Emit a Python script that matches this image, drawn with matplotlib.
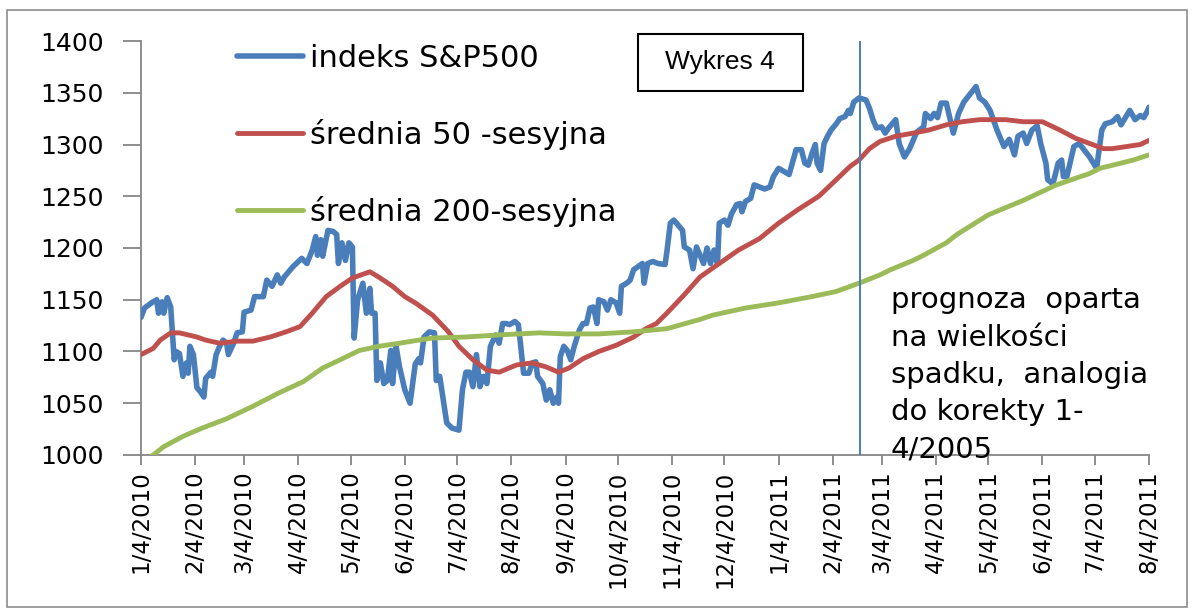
import matplotlib
matplotlib.use('Agg')
import matplotlib.pyplot as plt
from matplotlib.patches import Rectangle
import pandas as pd

# indeks S&P500 - odczyt z wykresu
sp_dates = ['2010-01-04', '2010-01-06', '2010-01-10', '2010-01-13', '2010-01-14', '2010-01-16', '2010-01-17', '2010-01-19',
            '2010-01-21', '2010-01-23', '2010-01-24', '2010-01-26', '2010-01-28', '2010-01-30', '2010-01-31',
            '2010-02-01', '2010-02-03', '2010-02-05', '2010-02-07', '2010-02-09', '2010-02-10', '2010-02-11', '2010-02-13',
            '2010-02-14', '2010-02-16', '2010-02-18', '2010-02-20', '2010-02-22', '2010-02-23', '2010-02-26', '2010-02-28',
            '2010-03-03', '2010-03-04', '2010-03-08', '2010-03-10', '2010-03-15', '2010-03-17', '2010-03-20', '2010-03-23',
            '2010-03-25', '2010-03-27',
            '2010-04-01', '2010-04-06', '2010-04-09', '2010-04-12', '2010-04-14', '2010-04-15', '2010-04-17', '2010-04-18',
            '2010-04-21', '2010-04-24', '2010-04-26', '2010-04-27', '2010-04-29',
            '2010-05-01', '2010-05-03', '2010-05-05', '2010-05-06', '2010-05-08', '2010-05-11', '2010-05-13', '2010-05-15',
            '2010-05-16', '2010-05-18', '2010-05-19', '2010-05-21', '2010-05-23', '2010-05-25', '2010-05-27', '2010-05-28',
            '2010-05-30',
            '2010-06-01', '2010-06-04', '2010-06-07', '2010-06-10', '2010-06-12', '2010-06-13', '2010-06-15', '2010-06-18',
            '2010-06-21', '2010-06-22', '2010-06-24', '2010-06-28',
            '2010-07-01', '2010-07-05', '2010-07-07', '2010-07-09', '2010-07-11', '2010-07-13', '2010-07-15', '2010-07-17',
            '2010-07-19', '2010-07-21', '2010-07-23', '2010-07-26', '2010-07-28', '2010-07-30',
            '2010-08-01', '2010-08-03', '2010-08-06', '2010-08-08', '2010-08-09', '2010-08-11', '2010-08-14', '2010-08-16',
            '2010-08-18', '2010-08-19', '2010-08-22', '2010-08-24', '2010-08-26', '2010-08-28', '2010-08-30', '2010-08-31',
            '2010-09-01', '2010-09-03', '2010-09-05', '2010-09-07', '2010-09-09', '2010-09-12', '2010-09-14', '2010-09-16',
            '2010-09-18', '2010-09-20', '2010-09-22', '2010-09-23', '2010-09-26', '2010-09-28', '2010-09-30',
            '2010-10-03', '2010-10-05', '2010-10-06', '2010-10-09', '2010-10-11', '2010-10-13', '2010-10-18', '2010-10-19',
            '2010-10-21', '2010-10-24', '2010-10-27', '2010-10-31',
            '2010-11-01', '2010-11-03', '2010-11-05', '2010-11-08', '2010-11-10', '2010-11-11', '2010-11-14', '2010-11-16',
            '2010-11-18', '2010-11-22', '2010-11-24', '2010-11-26', '2010-11-28', '2010-11-30',
            '2010-12-01', '2010-12-04', '2010-12-06', '2010-12-08', '2010-12-11', '2010-12-13', '2010-12-14', '2010-12-16',
            '2010-12-19', '2010-12-21', '2010-12-24', '2010-12-27', '2010-12-30',
            '2011-01-01', '2011-01-04', '2011-01-07', '2011-01-10', '2011-01-12', '2011-01-14', '2011-01-17', '2011-01-19',
            '2011-01-21', '2011-01-23', '2011-01-25', '2011-01-26', '2011-01-28', '2011-01-30',
            '2011-02-01', '2011-02-03', '2011-02-06', '2011-02-08', '2011-02-11', '2011-02-13', '2011-02-14', '2011-02-16',
            '2011-02-19', '2011-02-23', '2011-02-25', '2011-02-27',
            '2011-03-01', '2011-03-04', '2011-03-06', '2011-03-08', '2011-03-12', '2011-03-14', '2011-03-17', '2011-03-20',
            '2011-03-24', '2011-03-28', '2011-03-29',
            '2011-04-01', '2011-04-03', '2011-04-05', '2011-04-07', '2011-04-10', '2011-04-14', '2011-04-17', '2011-04-20',
            '2011-04-27', '2011-04-29',
            '2011-05-02', '2011-05-05', '2011-05-09', '2011-05-13', '2011-05-16', '2011-05-19', '2011-05-21', '2011-05-24',
            '2011-05-26', '2011-05-29',
            '2011-06-01', '2011-06-03', '2011-06-06', '2011-06-07', '2011-06-10', '2011-06-13', '2011-06-15', '2011-06-16',
            '2011-06-18', '2011-06-22', '2011-06-25',
            '2011-07-01', '2011-07-05', '2011-07-08', '2011-07-10', '2011-07-14', '2011-07-17', '2011-07-19', '2011-07-24',
            '2011-07-27', '2011-07-30',
            '2011-08-01', '2011-08-03', '2011-08-04']
sp_values = [1133, 1142, 1147, 1150, 1137, 1148, 1137, 1152,
             1143, 1092, 1100, 1098, 1076, 1089, 1079,
             1105, 1097, 1065, 1061, 1056, 1074, 1076, 1080,
             1076, 1097, 1105, 1111, 1108, 1097, 1108, 1118,
             1119, 1138, 1140, 1153, 1153, 1169, 1163, 1174,
             1166, 1172,
             1182, 1190, 1185, 1198, 1211, 1193, 1208, 1192,
             1217, 1216, 1213, 1185, 1205,
             1188, 1205, 1201, 1113, 1150, 1166, 1137, 1161,
             1137, 1137, 1072, 1089, 1069, 1072, 1101, 1069,
             1105,
             1085, 1063, 1050, 1088, 1093, 1089, 1114, 1119,
             1118, 1072, 1076, 1031,
             1026, 1024, 1063, 1080, 1080, 1066, 1097, 1066,
             1076, 1069, 1105, 1116, 1108, 1127,
             1127, 1126, 1129, 1126, 1111, 1079, 1079, 1089,
             1090, 1076, 1069, 1053, 1063, 1050, 1056, 1050,
             1095, 1105, 1101, 1092, 1105, 1121, 1127, 1127,
             1142, 1143, 1127, 1150, 1148, 1140, 1150,
             1147, 1137, 1163, 1166, 1169, 1179, 1185, 1166,
             1185, 1187, 1185, 1184,
             1196, 1224, 1227, 1221, 1217, 1201, 1198, 1180,
             1201, 1185, 1200, 1185, 1198, 1185,
             1224, 1227, 1222, 1233, 1242, 1243, 1235, 1245,
             1248, 1261, 1259, 1257, 1259,
             1269, 1277, 1274, 1271, 1283, 1295, 1295, 1282,
             1280, 1291, 1300, 1282, 1275, 1301,
             1308, 1314, 1320, 1325, 1327, 1333, 1330, 1341,
             1345, 1343, 1335, 1324,
             1316, 1317, 1311, 1316, 1324, 1301, 1288, 1296,
             1312, 1317, 1330,
             1325, 1330, 1326, 1340, 1340, 1311, 1330, 1341,
             1356, 1345,
             1341, 1333, 1314, 1298, 1305, 1290, 1308, 1311,
             1301, 1314,
             1318, 1301, 1282, 1266, 1262, 1282, 1285, 1269,
             1269, 1298, 1301,
             1288, 1277, 1314, 1320, 1322, 1327, 1319, 1333,
             1324, 1328,
             1326, 1332, 1336]

# srednia 50-sesyjna
ma50_dates = ['2010-01-04', '2010-01-11', '2010-01-15', '2010-01-21', '2010-01-26', '2010-02-05', '2010-02-10',
              '2010-02-18', '2010-02-28', '2010-03-09', '2010-03-19', '2010-03-28', '2010-04-05', '2010-04-12',
              '2010-04-20', '2010-04-28', '2010-05-05', '2010-05-15', '2010-05-20', '2010-05-28', '2010-06-04',
              '2010-06-10', '2010-06-20', '2010-06-29', '2010-07-05', '2010-07-13', '2010-07-21', '2010-07-28',
              '2010-08-07', '2010-08-16', '2010-08-24', '2010-08-31', '2010-09-06', '2010-09-14', '2010-09-23',
              '2010-10-03', '2010-10-13', '2010-10-20', '2010-10-26', '2010-11-01', '2010-11-10', '2010-11-20',
              '2010-12-01', '2010-12-12', '2010-12-24', '2011-01-04', '2011-01-15', '2011-01-27', '2011-02-06',
              '2011-02-14', '2011-02-19', '2011-02-25', '2011-03-03', '2011-03-12', '2011-03-22', '2011-03-31',
              '2011-04-10', '2011-04-19', '2011-04-29', '2011-05-14', '2011-05-24', '2011-06-04', '2011-06-14',
              '2011-06-23', '2011-07-01', '2011-07-09', '2011-07-14', '2011-07-22', '2011-07-30', '2011-08-04']
ma50_values = [1097, 1103, 1111, 1118, 1118, 1114, 1111,
               1108, 1110, 1110, 1114, 1119, 1124, 1137,
               1153, 1163, 1171, 1177, 1172, 1163, 1153,
               1147, 1135, 1119, 1105, 1092, 1082, 1080,
               1087, 1089, 1085, 1080, 1084, 1093, 1100,
               1106, 1114, 1122, 1127, 1137, 1153, 1172,
               1185, 1198, 1209, 1224, 1237, 1250, 1266,
               1279, 1285, 1296, 1303, 1308, 1311, 1314,
               1319, 1322, 1324, 1324, 1322, 1322, 1314,
               1306, 1301, 1296, 1296, 1298, 1300, 1304]

# srednia 200-sesyjna
ma200_dates = ['2010-01-04', '2010-01-11', '2010-01-17', '2010-01-28', '2010-02-08', '2010-02-22', '2010-03-09',
               '2010-03-24', '2010-04-07', '2010-04-18', '2010-04-28', '2010-05-09', '2010-05-20', '2010-06-01',
               '2010-06-12', '2010-06-20', '2010-07-09', '2010-07-28', '2010-08-20', '2010-09-04', '2010-09-23',
               '2010-10-13', '2010-11-01', '2010-11-20', '2010-11-27', '2010-12-16', '2011-01-04', '2011-01-23',
               '2011-02-06', '2011-02-19', '2011-03-03', '2011-03-09', '2011-03-22', '2011-03-28', '2011-04-10',
               '2011-04-16', '2011-05-04', '2011-05-24', '2011-06-12', '2011-07-01', '2011-07-07', '2011-07-26',
               '2011-08-04']
ma200_values = [990, 1000, 1008, 1018, 1026, 1035, 1047,
                1060, 1071, 1084, 1092, 1101, 1105, 1108,
                1111, 1113, 1114, 1116, 1118, 1117, 1117,
                1119, 1122, 1131, 1135, 1142, 1147, 1153,
                1158, 1166, 1174, 1179, 1188, 1193, 1205,
                1213, 1232, 1246, 1261, 1272, 1277, 1285,
                1290]

labels = ['indeks S&P500', 'średnia 50 -sesyjna', 'średnia 200-sesyjna']
note = 'prognoza  oparta\nna wielkości\nspadku,  analogia\ndo korekty 1-\n4/2005'
marker_date = '2011-02-19 12:00'
start, end = '2010-01-04', '2011-08-04'

axis_col = '#868686'

fig = plt.figure(figsize=(11.94, 6.15), dpi=100)
ax = fig.add_axes([0.1181, 0.2602, 0.8442, 0.6731])

ax.plot(pd.to_datetime(sp_dates), sp_values, color='#4A7EBB', lw=4.0,
        solid_joinstyle='round', solid_capstyle='round', label=labels[0], zorder=3)
ax.plot(pd.to_datetime(ma50_dates), ma50_values, color='#C0504D', lw=3.5,
        solid_capstyle='round', label=labels[1], zorder=4)
ax.plot(pd.to_datetime(ma200_dates), ma200_values, color='#9BBB59', lw=3.5,
        solid_capstyle='round', label=labels[2], zorder=5)
ax.axvline(pd.Timestamp(marker_date), color='#4A7EBB', lw=1.4, zorder=6)

ax.set_xlim(pd.Timestamp(start), pd.Timestamp(end))
ax.set_ylim(1000, 1400)
ax.set_yticks(range(1000, 1401, 50))

ticks = [pd.Timestamp(start) + pd.DateOffset(months=i) for i in range(20)]
ax.set_xticks(ticks)
ax.set_xticklabels([f'{d.month}/{d.day}/{d.year}' for d in ticks], rotation=90)

for s in ['top', 'right']:
    ax.spines[s].set_visible(False)
for s in ['left', 'bottom']:
    ax.spines[s].set_color(axis_col)
    ax.spines[s].set_linewidth(1.3)
ax.tick_params(axis='x', length=7, width=1.3, color=axis_col, pad=4, labelsize=16.5)
ax.tick_params(axis='y', length=13, width=1.3, color=axis_col, pad=14, labelsize=18)

ax.legend(loc='upper left', bbox_to_anchor=(0.095, 0.993), frameon=False, fontsize=22,
          borderpad=0, borderaxespad=0, handlelength=2.16, handletextpad=0.23, labelspacing=1.5)

ax.text(0.744, 0.408, note, transform=ax.transAxes, fontsize=21, va='top', ha='left',
        linespacing=1.43, clip_on=False, zorder=7)

fig.add_artist(Rectangle((638 / 1194, 1 - 91 / 615), 165 / 1194, 57 / 615, transform=fig.transFigure,
                         fill=False, ec='black', lw=1.5))
fig.text(720 / 1194, 1 - 62 / 615, 'Wykres 4', ha='center', va='center', fontsize=19,
         family=['Liberation Sans', 'DejaVu Sans'])

fig.add_artist(Rectangle((7 / 1194, 1 - 607 / 615), 1180 / 1194, 597 / 615, transform=fig.transFigure,
                         fill=False, ec='#8c8c8c', lw=1.2))

fig.savefig('out.png', dpi=100)
